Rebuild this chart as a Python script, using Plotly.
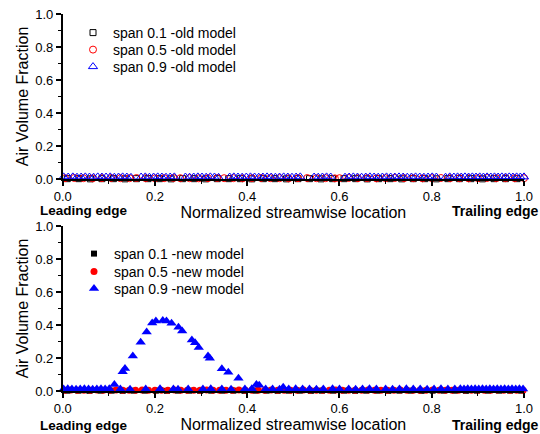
import plotly.graph_objects as go

# ---------------- data: old model (top panel) ----------------
old_x_span01 = [0.010,0.035,0.060,0.085,0.110,0.135,0.160,0.185,0.210,0.235,
                0.260,0.285,0.310,0.335,0.360,0.385,0.410,0.435,0.460,0.485,
                0.510,0.535,0.560,0.585,0.610,0.635,0.660,0.685,0.710,0.735,
                0.760,0.785,0.810,0.835,0.860,0.885,0.910,0.935,0.960,0.985]
old_y_span01 = [0.002,0.002,0.001,0.002,0.002,0.001,0.002,0.002,0.002,0.001,
                0.002,0.002,0.001,0.002,0.002,0.002,0.001,0.002,0.002,0.001,
                0.002,0.002,0.001,0.002,0.002,0.002,0.001,0.002,0.002,0.001,
                0.002,0.002,0.001,0.002,0.002,0.002,0.001,0.002,0.002,0.002]

old_x_span05 = [0.005,0.025,0.045,0.065,0.085,0.105,0.125,0.145,0.160,0.180,
                0.200,0.220,0.240,0.255,0.275,0.295,0.315,0.335,0.350,0.370,
                0.390,0.410,0.430,0.450,0.470,0.490,0.510,0.530,0.550,0.570,
                0.590,0.600,0.620,0.640,0.660,0.680,0.700,0.720,0.740,0.760,
                0.780,0.800,0.820,0.840,0.860,0.880,0.900,0.920,0.940,0.960,
                0.980,1.000]
old_y_span05 = [0.005,0.006,0.005,0.004,0.005,0.006,0.005,0.005,0.006,0.005,
                0.004,0.005,0.006,0.005,0.005,0.004,0.005,0.006,0.005,0.005,
                0.004,0.005,0.006,0.005,0.005,0.004,0.005,0.006,0.005,0.005,
                0.004,0.005,0.006,0.005,0.005,0.004,0.005,0.006,0.005,0.005,
                0.004,0.005,0.006,0.005,0.005,0.004,0.005,0.006,0.005,0.005,
                0.005,0.005]

old_x_span09 = [0.002,0.012,0.022,0.031,0.040,0.049,0.058,0.067,0.076,0.085,
                0.094,0.103,0.112,0.121,0.130,0.139,0.148,0.170,0.179,0.188,
                0.197,0.206,0.215,0.224,0.233,0.242,0.266,0.275,0.284,0.293,
                0.302,0.311,0.320,0.329,0.338,0.362,0.371,0.380,0.389,0.398,
                0.407,0.416,0.425,0.434,0.443,0.452,0.461,0.470,0.479,0.488,
                0.497,0.506,0.515,0.545,0.554,0.563,0.572,0.581,0.612,0.621,
                0.630,0.639,0.648,0.657,0.666,0.675,0.684,0.693,0.702,0.711,
                0.720,0.729,0.738,0.747,0.756,0.765,0.774,0.783,0.792,0.801,
                0.810,0.830,0.839,0.848,0.856,0.864,0.872,0.880,0.888,0.896,
                0.904,0.912,0.920,0.928,0.936,0.944,0.952,0.960,0.968,0.976,
                0.984,0.992,1.000]
old_y_span09 = [0.013,0.012,0.013,0.011,0.012,0.013,0.012,0.011,0.013,0.012,
                0.012,0.013,0.011,0.012,0.013,0.012,0.010,0.012,0.013,0.011,
                0.012,0.013,0.012,0.011,0.012,0.013,0.012,0.011,0.012,0.013,
                0.012,0.011,0.013,0.012,0.010,0.012,0.013,0.012,0.011,0.012,
                0.013,0.012,0.011,0.012,0.013,0.012,0.011,0.012,0.013,0.012,
                0.011,0.012,0.013,0.012,0.011,0.012,0.013,0.012,0.011,0.012,
                0.013,0.012,0.011,0.012,0.013,0.012,0.011,0.012,0.013,0.012,
                0.012,0.013,0.012,0.011,0.012,0.013,0.012,0.011,0.012,0.013,
                0.012,0.011,0.013,0.012,0.013,0.012,0.013,0.012,0.013,0.012,
                0.013,0.012,0.013,0.012,0.013,0.012,0.013,0.012,0.013,0.012,
                0.013,0.012,0.013]

# ---------------- data: new model (bottom panel) ----------------
new_x_span01 = [0.010,0.034,0.058,0.082,0.106,0.130,0.154,0.178,0.202,0.226,
                0.250,0.274,0.298,0.322,0.346,0.370,0.394,0.418,0.442,0.466,
                0.490,0.514,0.538,0.562,0.586,0.610,0.634,0.658,0.682,0.706,
                0.730,0.754,0.778,0.802,0.826,0.850,0.874,0.898,0.922,0.946,
                0.970,0.994]
new_y_span01 = [0.002,0.002,0.001,0.002,0.002,0.001,0.002,0.002,0.002,0.001,
                0.002,0.002,0.001,0.002,0.002,0.002,0.001,0.002,0.002,0.001,
                0.002,0.002,0.001,0.002,0.002,0.002,0.001,0.002,0.002,0.001,
                0.002,0.002,0.001,0.002,0.002,0.002,0.001,0.002,0.002,0.002,
                0.002,0.002]

new_x_span05 = [0.004,0.018,0.032,0.046,0.060,0.074,0.088,0.102,0.116,0.130,
                0.144,0.158,0.172,0.186,0.200,0.214,0.228,0.242,0.256,0.270,
                0.284,0.298,0.312,0.326,0.340,0.354,0.368,0.382,0.396,0.410,
                0.424,0.438,0.452,0.466,0.480,0.494,0.508,0.522,0.536,0.550,
                0.564,0.578,0.592,0.606,0.620,0.634,0.648,0.662,0.676,0.690,
                0.704,0.718,0.732,0.746,0.760,0.774,0.788,0.802,0.816,0.830,
                0.844,0.858,0.872,0.886,0.900,0.914,0.928,0.942,0.956,0.970,
                0.984,0.998]
new_y_span05 = [0.005,0.006,0.005,0.004,0.005,0.006,0.005,0.005,0.006,0.005,
                0.004,0.005,0.006,0.005,0.005,0.004,0.005,0.006,0.005,0.005,
                0.004,0.005,0.006,0.005,0.005,0.004,0.005,0.006,0.005,0.005,
                0.004,0.005,0.006,0.005,0.005,0.004,0.005,0.006,0.005,0.005,
                0.004,0.005,0.006,0.005,0.005,0.004,0.005,0.006,0.005,0.005,
                0.004,0.005,0.006,0.005,0.005,0.004,0.005,0.006,0.005,0.005,
                0.004,0.005,0.006,0.005,0.005,0.004,0.005,0.006,0.005,0.005,
                0.005,0.005]

new_x_span09 = [0.002,0.011,0.020,0.029,0.038,0.047,0.056,0.065,0.074,0.083,
                0.092,0.101,
                0.112,0.130,0.135,0.152,0.169,0.182,0.194,0.202,0.217,0.225,
                0.236,0.251,0.259,0.280,0.287,0.295,0.315,0.319,0.345,0.359,
                0.381,0.420,0.426,0.478,
                0.125,0.146,0.180,0.211,0.240,0.250,0.272,0.304,0.321,0.345,
                0.365,0.395,0.410,0.440,0.455,0.470,0.490,0.505,0.520,0.535,
                0.550,0.565,0.585,0.600,0.620,0.635,0.650,0.665,0.680,0.700,
                0.715,0.730,0.745,0.760,0.775,0.790,0.805,0.820,0.835,0.850,
                0.862,0.870,0.878,0.886,0.894,0.902,0.910,0.918,0.926,0.934,
                0.942,0.950,0.958,0.966,0.974,0.982,0.990,0.998]
new_y_span09 = [0.012,0.013,0.012,0.011,0.012,0.013,0.012,0.011,0.012,0.013,
                0.012,0.013,
                0.040,0.117,0.137,0.212,0.295,0.358,0.412,0.424,0.428,0.424,
                0.410,0.386,0.364,0.309,0.292,0.263,0.212,0.198,0.135,0.113,
                0.077,0.040,0.035,0.022,
                0.012,0.011,0.012,0.013,0.012,0.011,0.012,0.012,0.013,0.012,
                0.011,0.012,0.013,0.012,0.012,0.011,0.012,0.013,0.012,0.012,
                0.011,0.012,0.013,0.012,0.012,0.011,0.012,0.013,0.012,0.012,
                0.011,0.012,0.013,0.012,0.012,0.011,0.012,0.013,0.012,0.012,
                0.013,0.012,0.013,0.012,0.013,0.012,0.013,0.012,0.013,0.012,
                0.013,0.012,0.013,0.012,0.013,0.012,0.013,0.012]

legend_old = ["span 0.1 -old model", "span 0.5 -old model", "span 0.9 -old model"]
legend_new = ["span 0.1 -new model", "span 0.5 -new model", "span 0.9 -new model"]
x_title = "Normalized streamwise location"
y_title = "Air Volume Fraction"
edge_labels = ["Leading edge", "Trailing edge"]

BLACK, RED, BLUE = "#000000", "#ff0000", "#0000ff"
FONT = "Liberation Sans, Arial, sans-serif"
W, H = 540, 434

fig = go.Figure()

def open_marker(symbol, color, size):
    return dict(symbol=symbol, size=size, color=color, line=dict(color=color, width=1))

traces = [
    (old_x_span01, old_y_span01, legend_old[0], open_marker("square-open", BLACK, 6), "x", "y"),
    (old_x_span05, old_y_span05, legend_old[1], open_marker("circle-open", RED, 7), "x", "y"),
    (old_x_span09, old_y_span09, legend_old[2], open_marker("triangle-up-open", BLUE, 8), "x", "y"),
    (new_x_span01, new_y_span01, legend_new[0], dict(symbol="square", size=6, color=BLACK), "x2", "y2"),
    (new_x_span05, new_y_span05, legend_new[1], dict(symbol="circle", size=7, color=RED), "x2", "y2"),
    (new_x_span09, new_y_span09, legend_new[2], dict(symbol="triangle-up", size=9, color=BLUE), "x2", "y2"),
]
# legend row centres (px from top) and left positions
legend_rows = [33, 50, 67, 254, 272, 289]
legend_left = [73, 73, 73, 74, 74, 74]

legend_layout = {}
for i, (xs, ys, nm, mk, xa, ya) in enumerate(traces):
    lname = "legend" if i == 0 else "legend%d" % (i + 1)
    fig.add_trace(go.Scatter(x=xs, y=ys, mode="markers", name=nm, marker=mk,
                             xaxis=xa, yaxis=ya, cliponaxis=False, legend=lname))
    legend_layout[lname] = dict(
        x=legend_left[i] / W, y=1 - legend_rows[i] / H, xanchor="left", yanchor="middle",
        bgcolor="rgba(0,0,0,0)", borderwidth=0, tracegroupgap=0,
        font=dict(family=FONT, size=14, color="black"))

x_dom = [62.7 / W, 524 / W]
top_dom = [1 - 179 / H, 1 - 14 / H]
bot_dom = [1 - 391 / H, 1 - 226 / H]

axis_common = dict(
    range=[0, 1], showline=True, linecolor="black", linewidth=1.5,
    ticks="outside", ticklen=5, tickwidth=1.5, tickcolor="black",
    dtick=0.2, tick0=0, tickformat=".1f", showgrid=False, zeroline=False,
    tickfont=dict(family=FONT, size=13, color="black"),
    minor=dict(ticks="outside", ticklen=3, tickwidth=1.2, tickcolor="black", dtick=0.1, showgrid=False),
    automargin=False, fixedrange=True,
)

fig.update_layout(
    width=W, height=H, margin=dict(l=0, r=0, t=0, b=0),
    paper_bgcolor="white", plot_bgcolor="white",
    font=dict(family=FONT, color="black"),
    xaxis=dict(axis_common, domain=x_dom, anchor="y",
               title=dict(text=x_title, font=dict(size=16, family=FONT), standoff=2)),
    yaxis=dict(axis_common, domain=top_dom, anchor="x",
               title=dict(text=y_title, font=dict(size=16, family=FONT), standoff=3)),
    xaxis2=dict(axis_common, domain=x_dom, anchor="y2",
                title=dict(text=x_title, font=dict(size=16, family=FONT), standoff=2)),
    yaxis2=dict(axis_common, domain=bot_dom, anchor="x2",
                title=dict(text=y_title, font=dict(size=16, family=FONT), standoff=3)),
    showlegend=True,
    **legend_layout,
)

for ycen in (211, 425):
    fig.add_annotation(x=84 / W, y=1 - ycen / H, xref="paper", yref="paper",
                       text="<b>%s</b>" % edge_labels[0], showarrow=False,
                       font=dict(family=FONT, size=13.5, color="black"),
                       xanchor="center", yanchor="middle")
    fig.add_annotation(x=1.0, y=1 - ycen / H, xref="paper", yref="paper",
                       text="<b>%s</b>" % edge_labels[1], showarrow=False,
                       font=dict(family=FONT, size=14, color="black"),
                       xanchor="right", yanchor="middle", xshift=1)

fig.write_html("out.html", config={"displayModeBar": False})
